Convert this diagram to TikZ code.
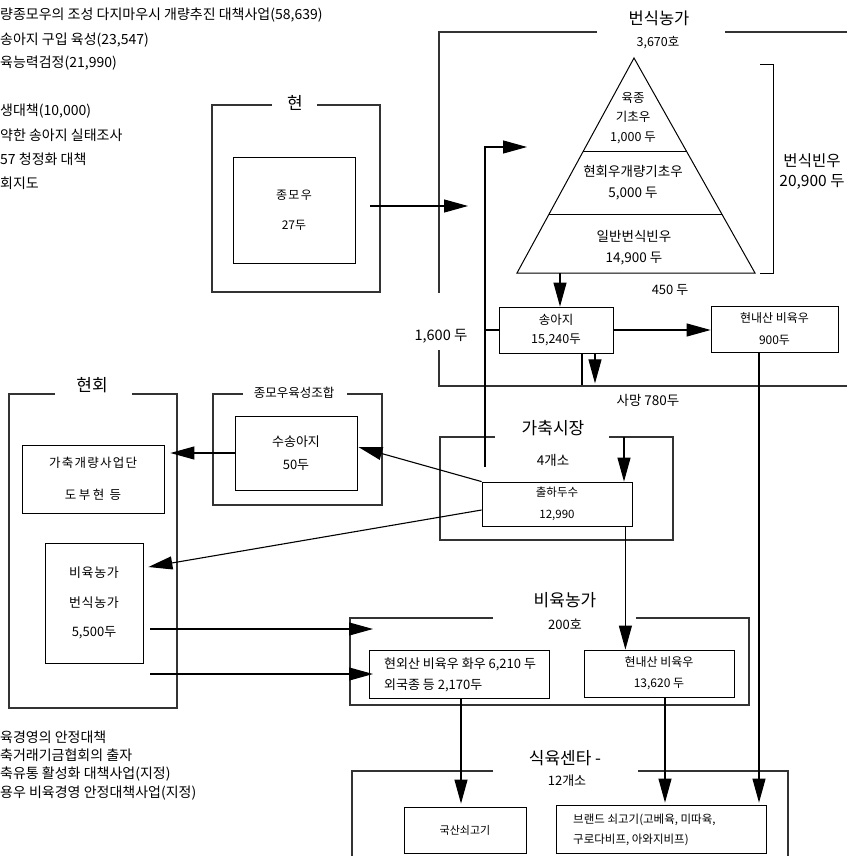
\documentclass[tikz,border=0pt]{standalone}
\usepackage{fontspec}
\setmainfont{Noto Sans CJK KR}
\usetikzlibrary{arrows.meta,calc}
\newcommand{\fs}[2]{\fontsize{#1}{#2}\selectfont}
\tikzset{
  outer/.style={line width=1.6pt, draw=black!80},
  ibox/.style={draw, line width=0.8pt, inner sep=0pt, align=center},
  conn/.style={line width=1.1pt},
  arr/.style={conn, -{Triangle[length=24pt,width=13pt]}},
  txt/.style={inner sep=0pt, align=center},
  ltxt/.style={inner sep=0pt, anchor=west, align=left},
}
\begin{document}
\begin{tikzpicture}[x=1pt,y=-1pt]
\useasboundingbox (0,0) rectangle (847,856);

% ---------- top-left notes ----------
\node[ltxt, font=\fs{14}{14}] (tl1) at (0,15) {량종모우의 조성 다지마우시 개량추진 대책사업(58,639)};
\node[ltxt, font=\fs{14}{14}] (tl2) at (0,40) {송아지 구입 육성(23,547)};
\node[ltxt, font=\fs{14}{14}] (tl3) at (0,63) {육능력검정(21,990)};
\node[ltxt, font=\fs{14}{14}] (tl4) at (0,111) {생대책(10,000)};
\node[ltxt, font=\fs{14}{14}] (tl5) at (0,135) {약한 송아지 실태조사};
\node[ltxt, font=\fs{14}{14}] (tl6) at (0,159) {57 청정화 대책};
\node[ltxt, font=\fs{14}{14}] (tl7) at (0,183) {회지도};

% ---------- bottom-left notes ----------
\node[ltxt, font=\fs{14}{14}] (bl1) at (0,737) {육경영의 안정대책};
\node[ltxt, font=\fs{14}{14}] (bl2) at (0,755) {축거래기금협회의 출자};
\node[ltxt, font=\fs{14}{14}] (bl3) at (0,774) {축유통 활성화 대책사업(지정)};
\node[ltxt, font=\fs{14}{14}] (bl4) at (0,793) {용우 비육경영 안정대책사업(지정)};

% ---------- 현 ----------
\draw[outer] (272,105) -| (212,292) -| (380,105) -- (317,105);
\node[txt, font=\fs{17}{17}] (hyunT) at (295,103) {현};
\node[ibox, minimum width=122pt, minimum height=106pt, font=\fs{12}{30}] (jongmou) at (294,210) {{\addfontfeature{LetterSpace=12}종모우}\\27두};

% ---------- 번식농가 ----------
\draw[outer] (597,32) -| (439,293);
\draw[outer] (439,350) |- (847,386);
\draw[outer] (725,32) -- (847,32);
\node[txt, font=\fs{16.5}{16.5}] (bsT) at (659,18) {번식농가};
\node[txt, font=\fs{12.5}{12.5}] (bsN) at (658,43) {3,670호};

\coordinate (apex) at (634,58);
\coordinate (pbl) at (517,273);
\coordinate (pbr) at (755,273);
\draw[line width=1pt] (apex) -- (pbl) -- (pbr) -- cycle;
\draw[line width=1pt] ($(apex)!0.437!(pbl)$) -- ($(apex)!0.437!(pbr)$);
\draw[line width=1pt] ($(apex)!0.730!(pbl)$) -- ($(apex)!0.730!(pbr)$);
\node[txt, font=\fs{12.5}{19.5}] (p1) at (633,118) {육종\\기초우\\1,000 두};
\node[txt, font=\fs{13.5}{21}] (p2) at (633,183) {현회우개량기초우\\5,000 두};
\node[txt, font=\fs{13.5}{21}] (p3) at (634,248) {일반번식빈우\\14,900 두};

\draw[line width=1pt] (760,65) -| (773,273) -- (760,273);
\node[txt, font=\fs{15.5}{20}] (bsBin) at (812,172) {번식빈우\\20,900 두};
\node[txt, font=\fs{13}{13}] (t450) at (670,290) {450 두};

\node[ibox, minimum width=114pt, minimum height=46pt, font=\fs{12.5}{19}] (songaji) at (556,330) {송아지\\15,240두};
\node[ibox, minimum width=127pt, minimum height=46pt, font=\fs{12}{22}] (hyunnae900) at (774.5,329) {현내산 비육우\\900두};
\node[txt, font=\fs{14.5}{14.5}] (t1600) at (441,336) {1,600 두};
\node[txt, font=\fs{13.5}{13.5}] (tDeath) at (648,400) {사망 780두};

% ---------- 가축시장 ----------
\draw[outer] (495,437) -| (440,540) -| (673,437) -- (609,437);
\node[txt, font=\fs{17}{17}] (gcT) at (553,428) {가축시장};
\node[txt, font=\fs{13.5}{13.5}] (gcN) at (553,460) {4개소};
\node[ibox, minimum width=150pt, minimum height=44pt, font=\fs{11.5}{22}] (chulha) at (557,504) {출하두수\\12,990};

% ---------- 현회 ----------
\draw[outer] (55,394) -| (9,708) -| (177,394) -- (132,394);
\node[txt, font=\fs{17}{17}] (hhT) at (92,385) {현회};
\node[ibox, minimum width=142pt, minimum height=68pt, font=\fs{12.5}{32}] (gachuk) at (93,479) {{\addfontfeature{LetterSpace=10}가축개량사업단}\\{\addfontfeature{LetterSpace=20}도부현 등}};
\node[ibox, minimum width=98pt, minimum height=120pt, font=\fs{13}{29.5}] (leftfarm) at (94,603) {{\addfontfeature{LetterSpace=5}비육농가}\\{\addfontfeature{LetterSpace=5}번식농가}\\5,500두};

% ---------- 종모우육성조합 ----------
\draw[outer] (243,394) -| (213,505) -| (382,394) -- (347,394);
\node[txt, font=\fs{12.5}{12.5}] (jmjT) at (294,393) {종모우육성조합};
\node[ibox, minimum width=122pt, minimum height=74pt, font=\fs{13}{23}] (susongaji) at (296,453) {수송아지\\50두};

% ---------- 비육농가 ----------
\draw[outer] (493,618) -| (350,705) -| (749,618) -- (636,618);
\node[txt, font=\fs{17}{17}] (byT) at (565,600) {비육농가};
\node[txt, font=\fs{13}{13}] (byN) at (565,624) {200호};
\node[ibox, minimum width=180pt, minimum height=48pt] (hyunoe) at (459,674) {};
\node[ltxt, font=\fs{13}{21}] (hyunoeT) at (384,674.5) {현외산 비육우 화우 6,210 두\\외국종 등 2,170두};
\node[ibox, minimum width=150pt, minimum height=47pt, font=\fs{12}{21}] (hyunnae136) at (659,673.5) {현내산 비육우\\13,620 두};

% ---------- 식육센타 ----------
\draw[outer] (493,771) -| (352,858);
\draw[outer] (638,771) -| (788,858);
\node[txt, font=\fs{17}{17}] (syT) at (565,758) {식육센타 -};
\node[txt, font=\fs{13}{13}] (syN) at (567,781) {12개소};
\node[ibox, minimum width=122pt, minimum height=46pt, font=\fs{11}{11}] (guksan) at (465,830) {국산쇠고기};
\node[ibox, minimum width=210pt, minimum height=48pt] (brand) at (661,829) {};
\node[ltxt, font=\fs{11.5}{20}] (brandT) at (573,830) {브랜드 쇠고기(고베육, 미따육,\\구로다비프, 아와지비프)};

% ---------- connectors ----------
\coordinate (jmTip) at (468,206);
\draw[arr] ($(jongmou.east)+(15,-4)$) -- (jmTip);

\coordinate (v16b) at (485,467);
\coordinate (v16t) at (527,147);
\draw[arr] (v16b) |- (v16t);
\draw[conn] (songaji.west) -- (songaji.west -| v16b);

\coordinate (pdown) at (560,273);
\draw[arr] (pdown) -- (pdown |- songaji.north);
\draw[arr] (songaji.east) -- (songaji.east -| hyunnae900.west);
\draw[conn] ([xshift=26pt]songaji.south) -- ++(0,32);
\draw[arr] ([xshift=39pt]songaji.south) -- ++(0,30);

\coordinate (gTop) at (624,437);
\draw[arr] (gTop) -- (gTop |- chulha.north);
\draw[arr] ([xshift=-7pt]chulha.south east) -- ([xshift=-7pt]chulha.south east |- hyunnae136.north);
\draw[arr] ([xshift=-15.5pt]hyunnae900.south) -- ([xshift=-15.5pt,yshift=2pt]hyunnae900.south |- brand.north);
\draw[arr] ([xshift=6pt]hyunnae136.south) -- ([xshift=6pt,yshift=2pt]hyunnae136.south |- brand.north);
\draw[arr] ([xshift=2pt]hyunoe.south) -- ([xshift=2pt,yshift=3pt]hyunoe.south |- guksan.north);

\draw[arr] (chulha.north west) -- ([xshift=1pt,yshift=6pt]susongaji.east);
\draw[arr] ([yshift=-6pt]chulha.west) -- ([xshift=5pt,yshift=36pt]leftfarm.east);
\draw[arr] (susongaji.west) -- ([xshift=6pt]gachuk.east |- susongaji.west);

\coordinate (lf1) at (150,629);
\coordinate (lf2) at (150,674);
\coordinate (bfTip1) at (373,629);
\coordinate (bfTip2) at (373,674);
\draw[arr] (lf1) -- (bfTip1);
\draw[arr] (lf2) -- (bfTip2);
\end{tikzpicture}
\end{document}
